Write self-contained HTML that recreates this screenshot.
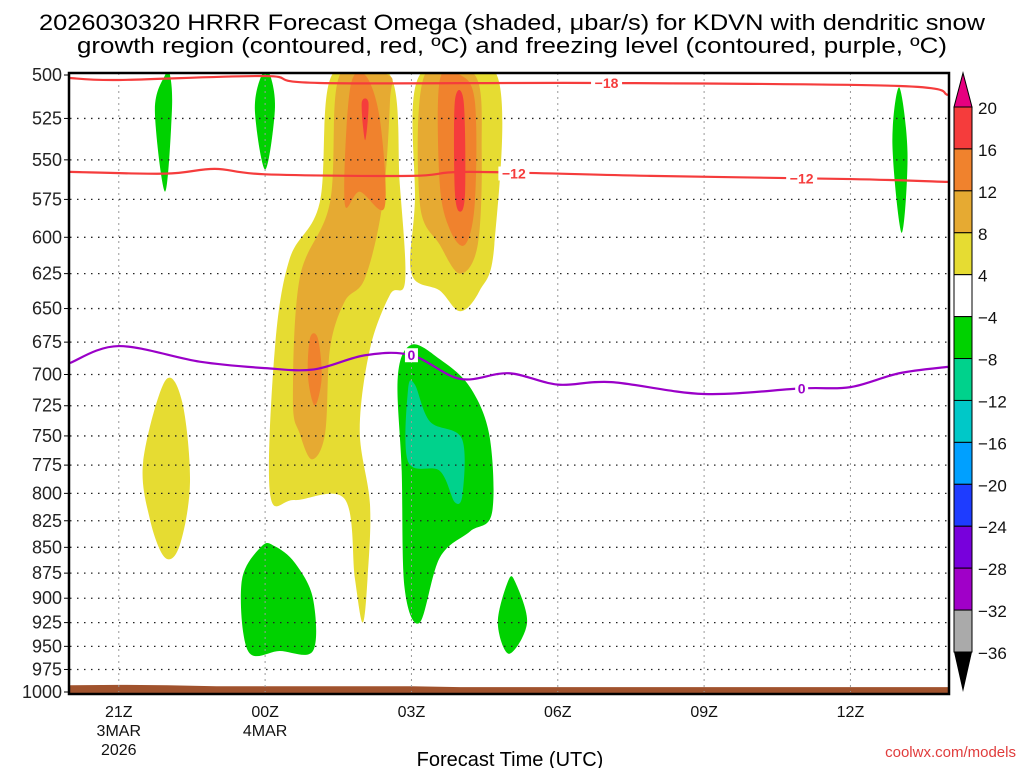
<!DOCTYPE html>
<html><head><meta charset="utf-8">
<style>
html,body{margin:0;padding:0;background:#fff;}
svg{display:block;font-family:"Liberation Sans",sans-serif;}
</style></head>
<body>
<svg id="chart" width="1024" height="768" viewBox="0 0 1024 768" xmlns="http://www.w3.org/2000/svg">
<text x="512" y="30" font-size="22" text-anchor="middle" textLength="946" lengthAdjust="spacingAndGlyphs">2026030320 HRRR Forecast Omega (shaded, μbar/s) for KDVN with dendritic snow</text>
<text x="512" y="53" font-size="22" text-anchor="middle" textLength="870" lengthAdjust="spacingAndGlyphs">growth region (contoured, red, ºC) and freezing level (contoured, purple, ºC)</text>
<g id="shading"></g>
<g id="grid"></g>
<g id="contours"></g>
<g id="axes"></g>
<g id="cbar"></g>
<text x="510" y="766" font-size="20" text-anchor="middle">Forecast Time (UTC)</text>
<text x="1016" y="757" font-size="15" fill="#e03c3c" text-anchor="end">coolwx.com/models</text>
</svg>
<script>
const pLevels=[500,525,550,575,600,625,650,675,700,725,750,775,800,825,850,875,900,925,950,975,1000];
const xTickHours=[1,4,7,10,13,16];
const xTickLabels=[["21Z","3MAR","2026"],["00Z","4MAR"],["03Z"],["06Z"],["09Z"],["12Z"]];
const cbLevels=[20,16,12,8,4,-4,-8,-12,-16,-20,-24,-28,-32,-36];
const cbColors=["#f53c3c","#f0822d","#e6aa32","#e6dc32","#ffffff","#00d200","#00d28c","#00c8c8","#00a0ff","#1e3cff","#7800dc","#a000c8","#aaaaaa"];
const blobYellow=[[5.37,500],[5.12,577],[4.5,615],[4.2,680],[4.1,800],[4.6,806],[5.63,805],[5.84,880],[6.0,925],[6.1,880],[6.15,810],[5.94,745],[6.15,680],[6.56,640],[6.87,630],[6.76,565],[6.56,500]];
const blobYellow2=[[7.17,500],[7.07,577],[7.0,625],[7.58,637],[8.0,652],[8.4,637],[8.7,605],[8.75,500]];
const blobYellow3=[[1.95,705],[1.5,772],[1.64,824],[1.95,860],[2.25,848],[2.46,790],[2.3,722]];
const blobOrange1=[[5.53,500],[5.33,577],[4.71,628],[4.57,720],[4.71,748],[4.96,770],[5.23,748],[5.33,680],[5.63,645],[6.05,628],[6.41,577],[6.56,515],[6.52,500]];
const blobOrange2=[[7.27,500],[7.17,577],[7.58,605],[8.0,625],[8.36,605],[8.44,545],[8.3,500]];
const blobDkOrange1=[[5.74,508],[5.63,577],[5.94,570],[6.45,580],[6.35,525],[6.05,500]];
const blobDkOrange2=[[4.92,672],[4.88,702],[5.02,725],[5.16,702],[5.08,672]];
const blobDkOrange3=[[7.58,503],[7.58,565],[7.79,595],[8.1,605],[8.3,577],[8.3,515],[8.0,500]];
const blobRed1=[[5.98,516],[6.05,538],[6.12,516]];
const blobRed2=[[7.89,515],[7.89,570],[8.0,583],[8.1,570],[8.07,515]];
const blobGreen1=[[1.95,500],[1.74,520],[1.95,570],[2.09,520],[2.05,500]];
const blobGreen2=[[3.93,500],[3.79,520],[4.0,556],[4.2,520],[4.1,500]];
const blobGreen3=[[17.0,507],[16.86,540],[17.05,597],[17.17,546]];
const blobGreen4=[[3.93,849],[3.52,883],[3.65,955],[4.3,955],[4.98,955],[4.98,900],[4.61,865],[4.2,849]];
const blobGreen5=[[7.0,677],[6.72,702],[6.8,780],[6.86,890],[7.17,925],[7.58,860],[8.2,835],[8.65,818],[8.6,750],[8.2,710],[7.58,688]];
const blobGreen6=[[8.98,883],[8.77,925],[9.0,958],[9.37,925],[9.12,883]];
const blobTeal=[[6.93,712],[6.93,772],[7.58,780],[7.89,808],[8.05,800],[8.03,752],[7.38,738],[7.07,708]];
const blobs=[[blobYellow,3],[blobYellow2,3],[blobYellow3,3],[blobOrange1,2],[blobOrange2,2],[blobDkOrange1,1],[blobDkOrange2,1],[blobDkOrange3,1],[blobRed1,0],[blobRed2,0],[blobGreen1,5],[blobGreen2,5],[blobGreen3,5],[blobGreen4,5],[blobGreen5,5],[blobGreen6,5],[blobTeal,6]];
const lineM18=[[0,501.7],[1,502.8],[4,500.6],[5.12,504.5],[10.9,504.5],[17,506.2],[18,511.3]];
const lineM12=[[0,557.5],[1.95,558.6],[2.97,555.6],[4,559],[7,560],[8.2,557.5],[11.9,560],[16,562],[18,563.8]];
const lineZero=[[0,691],[1,678],[2.66,690],[4,695],[5,696],[6.05,685],[7,685],[8,703.5],[9,699],[10,708],[11.1,706],[13,715.5],[15,711],[16,710],[17,699],[18,694]];
const surface=[[0,992.5],[1,992],[2,992.5],[3,993.5],[7,993.5],[8,994.5],[18,994.5]];

const X0=70,X1=948,Y0=75,Y1=692,H=18;
const xs=h=>X0+(X1-X0)*h/H;
const ys=p=>Y0+(Y1-Y0)*Math.log(p/500)/Math.log(2);
const NS="http://www.w3.org/2000/svg";
function mk(tag,attrs,parent){const e=document.createElementNS(NS,tag);for(const k in attrs)e.setAttribute(k,attrs[k]);parent.appendChild(e);return e;}
function smooth(pts,closed){
  const P=pts.map(q=>[xs(q[0]),ys(q[1])]);const n=P.length;let d="M"+P[0][0]+","+P[0][1];
  const last=closed?n:n-1;
  for(let i=0;i<last;i++){
    const p0=P[closed?(i-1+n)%n:Math.max(i-1,0)],p1=P[i],p2=P[(i+1)%n],p3=P[closed?(i+2)%n:Math.min(i+2,n-1)];
    d+=" C"+(p1[0]+(p2[0]-p0[0])/6)+","+(p1[1]+(p2[1]-p0[1])/6)+" "+(p2[0]-(p3[0]-p1[0])/6)+","+(p2[1]-(p3[1]-p1[1])/6)+" "+p2[0]+","+p2[1];
  }
  return d+(closed?"Z":"");
}
const clip=mk("clipPath",{id:"pc"},document.getElementById("chart"));
mk("rect",{x:X0,y:73,width:X1-X0,height:Y1-73+2},clip);
const sh=document.getElementById("shading");sh.setAttribute("clip-path","url(#pc)");
blobs.forEach(b=>{
  const e=mk("path",{d:smooth(b[0],true),fill:cbColors[b[1]]},sh);
  
  
});
{let d="M"+xs(0)+","+(Y1+2);surface.forEach(q=>d+=" L"+xs(q[0])+","+ys(q[1]));d+=" L"+xs(18)+","+(Y1+2)+"Z";
const e=mk("path",{d:d,fill:"#a0522d"},sh);

}
const g=document.getElementById("grid");
pLevels.forEach(p=>{if(p===500||p===1000)return;const e=mk("line",{x1:X0,x2:X1,y1:ys(p),y2:ys(p),stroke:"#222","stroke-width":1.3,"stroke-dasharray":"1.5,5.5"},g);

});
xTickHours.forEach(h=>{const e=mk("line",{x1:xs(h),x2:xs(h),y1:73,y2:Y1,stroke:"#999","stroke-width":1,"stroke-dasharray":"2,4"},g);

});
const c=document.getElementById("contours");c.setAttribute("clip-path","url(#pc)");
[[lineM18,"#f53c3c"],[lineM12,"#f53c3c"],[lineZero,"#9a00c8"]].forEach(l=>{
  const e=mk("path",{d:smooth(l[0],false),fill:"none",stroke:l[1],"stroke-width":2.2},c);
  
  
});
const clabels=[[11,504.5,"-18","#f53c3c"],[9.1,558.5,"-12","#f53c3c"],[15,561.5,"-12","#f53c3c"],[7,685,"0","#9a00c8"],[15,711,"0","#9a00c8"]];
clabels.forEach(l=>{
  const r=mk("rect",{x:xs(l[0])-(l[2].length*4.5+2),y:ys(l[1])-7,width:l[2].length*9+4,height:14,fill:"#fff"},c);
  
  
  const t=mk("text",{x:xs(l[0]),y:ys(l[1])+5,"font-size":14,"font-weight":"bold",fill:l[3],"text-anchor":"middle"},c);t.textContent=l[2].replace("-","−");
  
  
});
const a=document.getElementById("axes");
{const e=mk("rect",{x:X0-1,y:73,width:X1-X0+2,height:Y1-73+2,fill:"none",stroke:"#000","stroke-width":2.5},a);

}
pLevels.forEach(p=>{
  const t=mk("text",{x:62,y:ys(p)+6,"font-size":18,"text-anchor":"end",fill:"#222"},a);t.textContent=p;
  
  
  const k=mk("line",{x1:X0-6,x2:X0-2,y1:ys(p),y2:ys(p),stroke:"#000"},a);
  
  
});
xTickHours.forEach((h,i)=>{
  xTickLabels[i].forEach((s,j)=>{
    const t=mk("text",{x:xs(h),y:717+j*19,"font-size":16,"text-anchor":"middle",fill:"#111"},a);t.textContent=s;
    
    
  });
});
const cb=document.getElementById("cbar");
const CX=954,CW=18,CT=107,CH=(652-107)/13;
{const e=mk("polygon",{points:`${CX},${CT} ${CX+CW/2},73 ${CX+CW},${CT}`,fill:"#e6007f",stroke:"#000"},cb);

}
cbColors.forEach((col,i)=>{const e=mk("rect",{x:CX,y:CT+i*CH,width:CW,height:CH,fill:col,stroke:"#000","stroke-width":1},cb);

});
{const e=mk("polygon",{points:`${CX},652 ${CX+CW/2},692 ${CX+CW},652`,fill:"#000"},cb);

}
cbLevels.forEach((v,i)=>{const t=mk("text",{x:978,y:CT+i*CH+7,"font-size":17,fill:"#111"},cb);t.textContent=(v<0?"−":"")+Math.abs(v);

});
</script>
</body></html>
